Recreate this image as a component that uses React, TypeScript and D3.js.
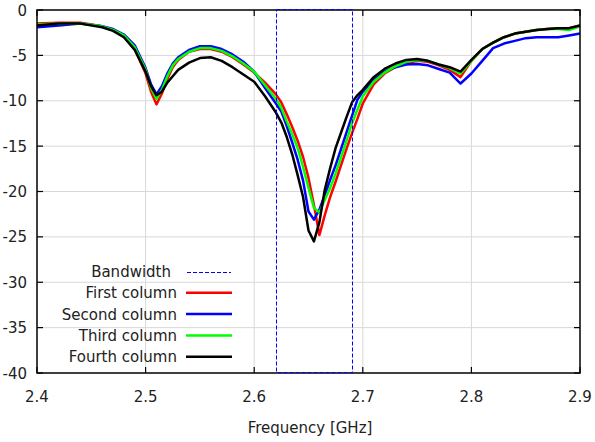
import React from "react";
import * as d3 from "d3";

const freq = [2.40, 2.42, 2.44, 2.46, 2.47, 2.48, 2.49, 2.50, 2.505, 2.51, 2.515, 2.52, 2.525, 2.53, 2.54, 2.55, 2.56, 2.57, 2.58, 2.59, 2.60, 2.61, 2.62, 2.625, 2.63, 2.635, 2.64, 2.645, 2.65, 2.655, 2.66, 2.665, 2.67, 2.675, 2.68, 2.685, 2.69, 2.695, 2.70, 2.71, 2.72, 2.73, 2.74, 2.75, 2.76, 2.77, 2.78, 2.79, 2.80, 2.81, 2.82, 2.83, 2.84, 2.85, 2.86, 2.87, 2.88, 2.89, 2.90];

const firstColumn = [-1.5, -1.4, -1.4, -1.8, -2.2, -2.9, -4.3, -7.0,
  -9.0, -10.4, -9.2, -7.6, -6.3, -5.5,
  -4.6, -4.3, -4.3, -4.6, -5.2, -6.0, -6.9,
  -8.0, -9.3, -10.2, -11.5, -12.9, -14.4, -16.2, -18.5, -21.5, -24.8, -22.6, -20.6, -18.9, -17.1, -15.3, -13.6, -12.0, -10.3,
  -8.2, -7.0, -6.3, -5.9, -5.6, -5.7, -6.1, -6.6, -7.4, -5.6, -4.3, -3.6, -3.0, -2.6, -2.4, -2.2, -2.1, -2.0, -2.0, -1.7];

const secondColumn = [-1.9, -1.7, -1.5, -1.8, -2.1, -2.7, -3.9, -6.4,
  -8.2, -9.3, -8.4, -7.0, -5.9, -5.2,
  -4.4, -4.0, -4.0, -4.3, -4.9, -5.7, -6.8,
  -8.6, -10.3, -11.2, -12.8, -14.6, -16.5, -18.8, -22.2, -23.1, -22.0, -20.4, -18.7, -17.1, -15.3, -13.5, -11.7, -9.9, -9.0,
  -7.7, -6.8, -6.3, -6.0, -5.95, -6.1, -6.5, -6.9, -8.1, -7.0, -5.6, -4.2, -3.7, -3.4, -3.1, -3.0, -3.0, -3.0, -2.8, -2.6];

const thirdColumn = [-1.6, -1.5, -1.5, -1.8, -2.2, -2.8, -4.1, -6.6,
  -8.6, -9.8, -8.8, -7.3, -6.1, -5.4,
  -4.6, -4.2, -4.2, -4.5, -5.1, -5.9, -6.8,
  -8.3, -9.8, -10.8, -12.3, -13.7, -15.2, -17.3, -19.6, -21.8, -22.3, -20.9, -19.6, -18.0, -16.2, -14.4, -12.5, -11.0, -9.5,
  -7.9, -6.9, -6.2, -5.7, -5.5, -5.6, -6.0, -6.4, -7.0, -5.6, -4.3, -3.6, -3.0, -2.6, -2.4, -2.2, -2.1, -2.1, -2.2, -1.8];

const fourthColumn = [-1.7, -1.5, -1.5, -1.9, -2.3, -3.0, -4.4, -6.8,
  -8.4, -9.4, -9.0, -8.0, -7.3, -6.6,
  -5.8, -5.3, -5.2, -5.6, -6.3, -7.1, -7.9,
  -9.5, -11.3, -12.4, -14.0, -15.9, -18.2, -20.6, -24.3, -25.5, -23.4, -19.8, -17.4, -15.2, -13.5, -11.8, -10.2, -9.4, -8.8,
  -7.4, -6.5, -5.9, -5.5, -5.4, -5.6, -6.0, -6.3, -6.8, -5.5, -4.3, -3.6, -3.0, -2.6, -2.4, -2.2, -2.1, -2.0, -2.0, -1.7];

const bandwidth = [2.62, 2.69];
const xTicks = [2.4, 2.5, 2.6, 2.7, 2.8, 2.9];
const yTicks = [0, -5, -10, -15, -20, -25, -30, -35, -40];
const seriesNames = ["First column", "Second column", "Third column", "Fourth column"];
const seriesColors = ["#ff0000", "#0000ff", "#00ff00", "#000000"];
const seriesValues = [firstColumn, secondColumn, thirdColumn, fourthColumn];

const W = 595, H = 442;
const L = 37, R = 580, T = 10, B = 373;
const FONT = "DejaVu Sans, Verdana, sans-serif";

export default function App() {
  const x = d3.scaleLinear().domain([2.4, 2.9]).range([L, R]);
  const y = d3.scaleLinear().domain([-40, 0]).range([B, T]);
  const line = d3.line<[number, number]>().x(d => x(d[0])).y(d => y(d[1]));

  const legendRows = ["Bandwidth", ...seriesNames];
  const legY0 = 271.5, legDy = 21.3;
  const bx0 = Math.round(x(bandwidth[0])) + 0.5;
  const bx1 = Math.round(x(bandwidth[1])) + 0.5;

  return (
    <svg width={W} height={H} style={{ position: "absolute", left: 0, top: 0, background: "#fff" }} fontFamily={FONT}>
      <rect x={0} y={0} width={W} height={H} fill="#fff" />
      {/* grid */}
      {xTicks.slice(1, -1).map(t => (
        <line key={"gx" + t} x1={x(t)} x2={x(t)} y1={T} y2={B} stroke="#d8d8d8" strokeWidth={1} />
      ))}
      {yTicks.slice(1, -1).map(t => (
        <line key={"gy" + t} x1={L} x2={R} y1={y(t)} y2={y(t)} stroke="#d8d8d8" strokeWidth={1} />
      ))}
      {/* curves */}
      {seriesValues.map((vals, i) => (
        <path key={"s" + i} d={line(freq.map((f, j) => [f, vals[j]]) as [number, number][]) || ""}
          fill="none" stroke={seriesColors[i]} strokeWidth={2.5} strokeLinejoin="round" />
      ))}
      {/* frame */}
      <rect x={L} y={T} width={R - L} height={B - T} fill="none" stroke="#000" strokeWidth={1.5} />
      {/* bandwidth box */}
      <rect x={bx0} y={y(0) - 0.5} width={bx1 - bx0} height={y(-40) - y(0)}
        fill="none" stroke="#0000ff" strokeWidth={1} strokeDasharray="4,2" />
      {xTicks.map(t => (
        <g key={"xt" + t}>
          <line x1={x(t)} x2={x(t)} y1={B} y2={B - 6} stroke="#000" strokeWidth={1.2} />
          <line x1={x(t)} x2={x(t)} y1={T} y2={T + 6} stroke="#000" strokeWidth={1.2} />
          <text x={x(t)} y={402} textAnchor="middle" fontSize={15} fill="#222">{t.toFixed(1)}</text>
        </g>
      ))}
      {yTicks.map(t => (
        <g key={"yt" + t}>
          <line x1={L} x2={L + 6} y1={y(t)} y2={y(t)} stroke="#000" strokeWidth={1.2} />
          <line x1={R} x2={R - 6} y1={y(t)} y2={y(t)} stroke="#000" strokeWidth={1.2} />
          <text x={27} y={y(t) + 5.5} textAnchor="end" fontSize={15} fill="#222">{t}</text>
        </g>
      ))}
      <text x={310} y={433} textAnchor="middle" fontSize={15} fill="#222">Frequency [GHz]</text>
      {/* legend */}
      {legendRows.map((name, i) => (
        <g key={"lg" + i}>
          <text x={i === 0 ? 171 : 177} y={legY0 + i * legDy + 5.5} textAnchor="end" fontSize={15} fill="#222">{name}</text>
          {i === 0 ? (
            <line x1={187} x2={231} y1={Math.round(legY0) + 0.5} y2={Math.round(legY0) + 0.5} stroke="#0000ff" strokeWidth={1} strokeDasharray="4,2" />
          ) : (
            <line x1={186} x2={232} y1={legY0 + i * legDy} y2={legY0 + i * legDy} stroke={seriesColors[i - 1]} strokeWidth={2.5} />
          )}
        </g>
      ))}
    </svg>
  );
}
